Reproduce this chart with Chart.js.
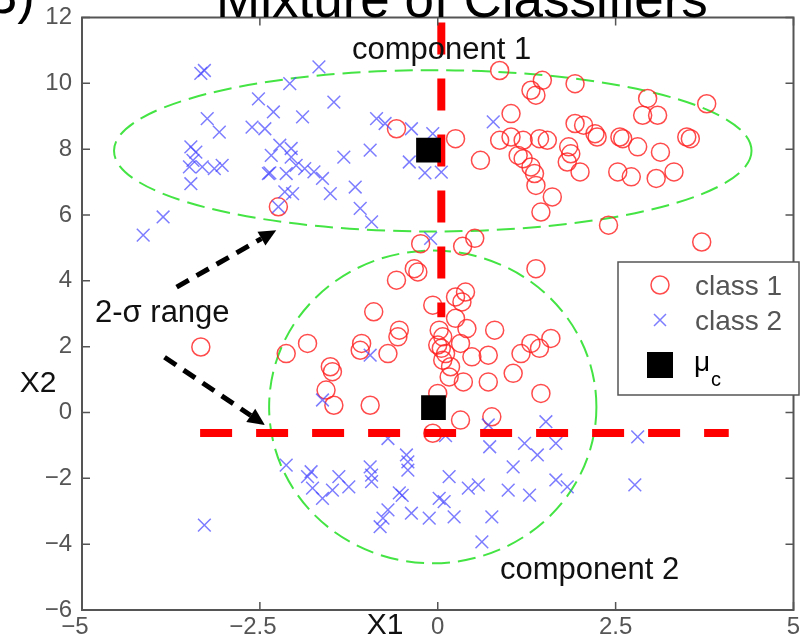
<!DOCTYPE html>
<html>
<head>
<meta charset="utf-8">
<script src="https://cdn.jsdelivr.net/npm/chart.js@4.4.0/dist/chart.umd.min.js"></script>
<style>
  body { margin: 0; background: #fff; }
  #wrap { width: 811px; height: 641px; }
</style>
</head>
<body>
<div id="wrap"><canvas id="mixChart" width="811" height="641"></canvas></div>
<script>
// class 1 (red circles)
var class1X = [0.87, 1.47, 1.31, 1.38, 1.93, 2.95, 3.78, 2.88, 3.09, 1.03, -0.58, 0.25, 0.87, 1.03, 1.20, 1.43, 1.54,
  1.93, 2.05, 2.21, 2.24, 2.56, 2.60, 2.81, 3.50, 3.55, 1.84, 1.87, 1.82, 3.13, 1.13, 1.20, 0.60, 1.31, 1.36,
  2.00, 2.53, 2.72, 3.07, 3.32, 1.38, 1.61, 1.45, 2.40, 3.71, 0.52, 0.35, -0.24, -2.24,
  1.38, -0.33, -0.28, -0.58, 0.39, 0.25, 0.34, -0.07, -0.90, 0.25, 0.41, 0.02, 0.07, -0.54, -0.56, 0.80,
  0.32, 0.00, 0.11, 0.48, 0.71, 0.07, 0.18, 0.16, 0.36, 0.71, 1.06, 1.17, 1.31, 1.43, 1.59, 1.45, 0.00,
  0.32, 0.76, -0.07, -3.33, -1.83, -2.13, -1.07, -1.09, -0.70, -1.51, -1.48, -1.57, -1.46, -0.95, 0.05];
var class1Y = [10.39, 10.09, 9.79, 9.64, 9.99, 9.54, 9.38, 9.03, 9.03, 9.08, 8.62, 8.32, 8.27, 8.37, 8.27, 8.32, 8.27,
  8.78, 8.73, 8.47, 8.37, 8.37, 8.32, 8.07, 8.37, 8.32, 8.07, 7.86, 7.61, 7.91, 7.81, 7.71, 7.66, 7.46, 7.26,
  7.31, 7.31, 7.16, 7.11, 7.31, 6.90, 6.55, 6.09, 5.69, 5.18, 5.29, 5.05, 5.13, 6.25,
  4.37, 4.37, 4.27, 4.02, 3.66, 3.51, 3.36, 3.26, 3.06, 2.86, 2.55, 2.50, 2.30, 2.50, 2.30, 2.50,
  2.10, 2.05, 1.79, 1.69, 1.74, 1.59, 1.39, 1.08, 0.93, 0.93, 1.19, 1.79, 2.10, 1.95, 2.25, 0.58, 0.58,
  -0.23, -0.13, -0.63, 1.99, 2.10, 1.79, 2.10, 1.89, 1.79, 1.39, 1.24, 0.68, 0.22, 0.22, 1.95];

// class 2 (blue crosses)
var class2X = [-3.28, -3.33, -1.67, -2.08, -2.52, -1.46, -2.31, -3.24, -1.90, -3.07, -2.61, -2.43, -0.86, -0.74, -0.37,
  -0.07, -3.47, -3.40, -3.49, -3.31, -3.14, -3.03, -3.44, -3.47, -2.22, -2.34, -2.06, -2.06, -1.99, -2.38,
  -2.36, -2.13, -1.87, -1.74, -1.62, -1.32, -0.95, -0.40, -0.18, 0.05, -2.15, -2.04, -1.51, -1.16, -2.24,
  -1.09, -0.93, -3.86, -4.14, -0.10, 0.78,
  -0.95, -1.62, 0.11, 0.71, 0.73, 1.52, 1.66, 1.22, 1.40, 1.06, 2.81, 2.77, 1.66, 1.82, 1.29, 0.99, 0.57,
  0.43, 0.16, 0.02, 0.09, -0.12, 0.23, -0.37, 0.76, 0.62, -0.42, -0.42, -0.50, -0.54, -0.70, -0.44, -2.13,
  -1.78, -1.83, -1.76, -1.62, -1.48, -1.39, -1.25, -0.95, -0.93, -0.93, -0.70, -0.77, -0.81, -3.28];
var class2Y = [10.39, 10.30, 10.50, 9.99, 9.53, 9.43, 9.13, 8.93, 8.98, 8.52, 8.67, 8.62, 8.93, 8.78, 8.62,
  8.47, 8.07, 7.91, 7.46, 7.46, 7.41, 7.51, 7.66, 6.95, 8.12, 7.81, 8.02, 7.76, 7.51, 7.26,
  7.28, 7.26, 7.41, 7.31, 7.11, 7.76, 7.97, 7.61, 7.28, 7.30, 6.70, 6.65, 6.65, 6.85, 6.25,
  6.20, 5.79, 5.94, 5.39, 5.29, 8.83,
  1.74, 0.38, -0.70, -0.38, -1.04, -0.28, -0.94, -0.94, -1.29, -1.65, -0.74, -2.20, -2.05, -2.26, -2.51, -2.36, -2.20,
  -2.30, -1.95, -2.61, -2.71, -3.21, -3.17, -3.06, -3.17, -3.93, -1.50, -1.75, -2.52, -2.44, -0.79, -1.29, -1.60,
  -1.80, -1.95, -2.30, -2.61, -2.36, -1.95, -2.26, -1.65, -1.90, -2.10, -2.96, -3.21, -3.47, -3.42];

// component means
var meanX = [-0.13, -0.06];
var meanY = [7.97, 0.15];

// 2-sigma ellipses: centre and half axes
var ellCx = [-0.07, -0.07];
var ellCy = [7.95, 0.17];
var ellRx = [4.48, 2.30];
var ellRy = [2.45, 4.75];

// red dashed boundary lines
var vLineX = [0.05, 0.05];
var vLineY = [11.85, 2.89];
var hLineX = [-3.34, 4.09];
var hLineY = [-0.625, -0.625];

// annotation arrows (start x, start y, end x, end y)
var arrowX0 = [-3.67, -3.84];
var arrowY0 = [3.81, 1.68];
var arrowX1 = [-2.27, -2.43];
var arrowY1 = [5.54, -0.38];

var xTicks = [-5, -2.5, 0, 2.5, 5];
var yTicks = [-6, -4, -2, 0, 2, 4, 6, 8, 10, 12];

function pts(xs, ys) {
  var out = [];
  for (var i = 0; i < xs.length; i++) out.push({x: xs[i], y: ys[i]});
  return out;
}
function minus(v) {
  return v < 0 ? '\u2212' + String(-v) : String(v);
}

var FONT = "'Liberation Sans', Arial, sans-serif";

function drawArrow(ctx, x0, y0, x1, y1) {
  var ang = Math.atan2(y1 - y0, x1 - x0);
  var head = 17;
  var bx = x1 - head * Math.cos(ang), by = y1 - head * Math.sin(ang);
  ctx.setLineDash([14, 9]);
  ctx.lineWidth = 5;
  ctx.beginPath();
  ctx.moveTo(x0, y0);
  ctx.lineTo(bx, by);
  ctx.stroke();
  ctx.setLineDash([]);
  ctx.beginPath();
  ctx.moveTo(x1, y1);
  ctx.lineTo(bx + 8 * Math.sin(ang), by - 8 * Math.cos(ang));
  ctx.lineTo(bx - 8 * Math.sin(ang), by + 8 * Math.cos(ang));
  ctx.closePath();
  ctx.fill();
}

function noPad(s) {
  s.paddingLeft = 0; s.paddingRight = 0; s.paddingTop = 0; s.paddingBottom = 0;
}

var overlay = {
  id: 'overlay',
  beforeDatasetsDraw: function(chart) {
    var ctx = chart.ctx, xs = chart.scales.x, ys = chart.scales.y, a = chart.chartArea;
    ctx.save();
    ctx.beginPath();
    ctx.rect(a.left, a.top, a.right - a.left, a.bottom - a.top);
    ctx.clip();
    ctx.strokeStyle = '#44e444';
    ctx.lineWidth = 2;
    ctx.setLineDash([18, 8]);
    for (var i = 0; i < ellCx.length; i++) {
      var cx = xs.getPixelForValue(ellCx[i]), cy = ys.getPixelForValue(ellCy[i]);
      var rx = Math.abs(xs.getPixelForValue(ellCx[i] + ellRx[i]) - cx);
      var ry = Math.abs(ys.getPixelForValue(ellCy[i] + ellRy[i]) - cy);
      ctx.beginPath();
      ctx.ellipse(cx, cy, rx, ry, 0, 0, Math.PI * 2);
      ctx.stroke();
    }
    ctx.restore();
  },
  afterDraw: function(chart) {
    var ctx = chart.ctx, xs = chart.scales.x, ys = chart.scales.y, a = chart.chartArea;
    ctx.save();

    // axes box with inward ticks
    ctx.strokeStyle = '#555';
    ctx.lineWidth = 2;
    ctx.strokeRect(a.left, a.top, a.right - a.left, a.bottom - a.top);
    ctx.lineWidth = 1.5;
    ctx.beginPath();
    xTicks.forEach(function(t) {
      var px = xs.getPixelForValue(t);
      ctx.moveTo(px, a.bottom); ctx.lineTo(px, a.bottom - 8);
      ctx.moveTo(px, a.top); ctx.lineTo(px, a.top + 8);
    });
    yTicks.forEach(function(t) {
      var py = ys.getPixelForValue(t);
      ctx.moveTo(a.left, py); ctx.lineTo(a.left + 8, py);
      ctx.moveTo(a.right, py); ctx.lineTo(a.right - 8, py);
    });
    ctx.stroke();

    // x tick labels: number centred on the tick, minus sign hanging to the left
    ctx.fillStyle = '#555';
    ctx.font = '24px ' + FONT;
    ctx.textBaseline = 'middle';
    ctx.textAlign = 'right';
    xTicks.forEach(function(t) {
      var px = xs.getPixelForValue(t);
      var w = ctx.measureText(String(Math.abs(t))).width;
      ctx.fillText(minus(t), px + w / 2, a.bottom + 17);
    });

    // title and panel label (cut by the top edge)
    ctx.fillStyle = '#000';
    ctx.textBaseline = 'alphabetic';
    ctx.textAlign = 'left';
    ctx.font = '53px ' + FONT;
    ctx.fillText('Mixture of Classifiers', 216, 17);
    ctx.textAlign = 'right';
    ctx.fillText('3)', 35, 13);

    // axis titles
    ctx.fillStyle = '#111';
    ctx.font = '30px ' + FONT;
    ctx.textAlign = 'center';
    ctx.textBaseline = 'middle';
    ctx.fillText('X2', 38, 384);
    ctx.fillText('X1', 385, 626);

    // annotations
    ctx.textAlign = 'left';
    ctx.textBaseline = 'alphabetic';
    ctx.font = '31px ' + FONT;
    ctx.fillText('component 1', 352, 59);
    ctx.fillText('component 2', 500, 579);
    ctx.fillText('2-\u03c3 range', 95, 322);

    ctx.fillStyle = '#000';
    ctx.strokeStyle = '#000';
    for (var i = 0; i < arrowX0.length; i++) {
      drawArrow(ctx, xs.getPixelForValue(arrowX0[i]), ys.getPixelForValue(arrowY0[i]),
        xs.getPixelForValue(arrowX1[i]), ys.getPixelForValue(arrowY1[i]));
    }

    // legend
    ctx.setLineDash([]);
    ctx.fillStyle = '#fff';
    ctx.fillRect(618, 262, 181, 133);
    ctx.strokeStyle = '#555';
    ctx.lineWidth = 1.5;
    ctx.strokeRect(618, 262, 181, 133);

    ctx.strokeStyle = 'rgba(255,30,30,0.8)';
    ctx.lineWidth = 1.5;
    ctx.beginPath();
    ctx.arc(660, 285, 9, 0, Math.PI * 2);
    ctx.stroke();

    ctx.strokeStyle = 'rgba(70,70,255,0.7)';
    ctx.beginPath();
    ctx.moveTo(654, 314); ctx.lineTo(666, 326);
    ctx.moveTo(666, 314); ctx.lineTo(654, 326);
    ctx.stroke();

    ctx.fillStyle = '#000';
    ctx.fillRect(647, 352, 26, 26);

    ctx.fillStyle = '#555';
    ctx.font = '28px ' + FONT;
    ctx.textBaseline = 'middle';
    ctx.fillText('class 1', 695, 287);
    ctx.fillText('class 2', 695, 322);
    ctx.fillStyle = '#000';
    ctx.fillText('\u03bc', 694, 363);
    ctx.font = '20px ' + FONT;
    ctx.fillText('c', 711, 380);

    ctx.restore();
  }
};

new Chart('mixChart', {
  type: 'scatter',
  data: {
    datasets: [{
      label: 'class 1',
      data: pts(class1X, class1Y),
      pointStyle: 'circle',
      pointRadius: 9,
      pointBorderWidth: 1.5,
      pointBackgroundColor: 'rgba(0,0,0,0)',
      pointBorderColor: 'rgba(255,30,30,0.8)',
      order: 5
    }, {
      label: 'class 2',
      data: pts(class2X, class2Y),
      pointStyle: 'crossRot',
      pointRadius: 9,
      pointBorderWidth: 1.5,
      pointBorderColor: 'rgba(70,70,255,0.7)',
      order: 4
    }, {
      label: 'vline',
      type: 'line',
      data: pts(vLineX, vLineY),
      borderColor: '#ff0000',
      borderWidth: 8,
      borderDash: [32, 24],
      borderCapStyle: 'butt',
      pointRadius: 0,
      showLine: true,
      order: 2
    }, {
      label: 'hline',
      type: 'line',
      data: pts(hLineX, hLineY),
      borderColor: '#ff0000',
      borderWidth: 8,
      borderDash: [32, 24],
      borderCapStyle: 'butt',
      pointRadius: 0,
      showLine: true,
      order: 2
    }, {
      label: '\u03bc_c',
      data: pts(meanX, meanY),
      pointStyle: 'rect',
      pointRadius: 17.5,
      pointBackgroundColor: '#000',
      pointBorderColor: '#000',
      pointBorderWidth: 0,
      order: 1
    }]
  },
  options: {
    responsive: false,
    animation: false,
    events: [],
    layout: { padding: { top: 17, right: 7, left: 0, bottom: 0 } },
    plugins: {
      legend: { display: false },
      tooltip: { enabled: false }
    },
    scales: {
      x: {
        type: 'linear',
        min: -5, max: 5,
        grid: { display: false, drawTicks: false },
        border: { display: false },
        afterBuildTicks: function(s) { s.ticks = xTicks.map(function(v) { return {value: v}; }); },
        afterFit: function(s) { s.height = 31; noPad(s); },
        ticks: { display: false }
      },
      y: {
        type: 'linear',
        min: -6, max: 12,
        grid: { display: false, drawTicks: false },
        border: { display: false },
        afterBuildTicks: function(s) { s.ticks = yTicks.map(function(v) { return {value: v}; }); },
        afterFit: function(s) { s.width = 82; noPad(s); },
        ticks: {
          autoSkip: false, padding: 10,
          color: '#555', font: { family: FONT, size: 24 },
          callback: function(v) { return minus(v); }
        }
      }
    }
  },
  plugins: [overlay]
});
</script>
</body>
</html>
